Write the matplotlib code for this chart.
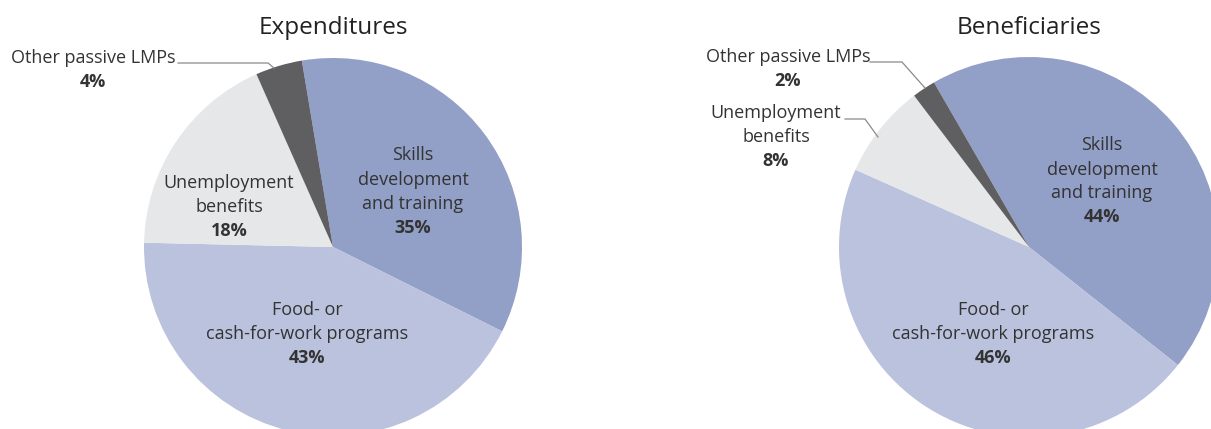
import matplotlib.pyplot as plt

plt.rcParams['font.family'] = ['Open Sans', 'DejaVu Sans']

# data
categories = ["Skills development and training", "Food- or cash-for-work programs",
              "Unemployment benefits", "Other passive LMPs"]
expenditures = [35, 43, 18, 4]
beneficiaries = [44, 46, 8, 2]
colors = ["#929fc7", "#bac2dd", "#e6e7e9", "#5f5f61"]

W, H = 1211, 429
fig = plt.figure(figsize=(W / 100, H / 100), dpi=100)
ax = fig.add_axes([0, 0, 1, 1])

txt = "#333333"
line_c = "#8a8a8a"


def Y(y):
    # image row -> data y
    return H - y


# pies
ax.pie(expenditures, colors=colors, startangle=99.5, counterclock=False,
       center=(333, Y(247)), radius=189, wedgeprops=dict(linewidth=0))
ax.pie(beneficiaries, colors=colors, startangle=120, counterclock=False,
       center=(1029, Y(247)), radius=190, wedgeprops=dict(linewidth=0))

ax.set_xlim(0, W)
ax.set_ylim(0, H)
ax.set_aspect('equal')
ax.axis('off')

fs = 13
ax.text(333, Y(28), "Expenditures", ha='center', va='center', fontsize=17.5, color="#222222")
ax.text(1029, Y(28), "Beneficiaries", ha='center', va='center', fontsize=17.5, color="#222222")


def label(x, ys, lines, pct):
    for y, s in zip(ys, lines):
        ax.text(x, Y(y), s, ha='center', va='center', fontsize=fs, color=txt)
    ax.text(x, Y(ys[-1] + 24), pct, ha='center', va='center', fontsize=fs,
            color=txt, fontweight='bold')


# left pie labels
label(413, [155, 180, 204], ["Skills", "development", "and training"], "%d%%" % expenditures[0])
label(307, [310, 334], ["Food- or", "cash-for-work programs"], "%d%%" % expenditures[1])
label(229, [183, 207], ["Unemployment", "benefits"], "%d%%" % expenditures[2])
label(93, [58], ["Other passive LMPs"], "%d%%" % expenditures[3])
ax.plot([178, 268, 274], [Y(63), Y(63), Y(68)], color=line_c, lw=0.9)

# right pie labels
label(1102, [145, 170, 193], ["Skills", "development", "and training"], "%d%%" % beneficiaries[0])
label(993, [310, 334], ["Food- or", "cash-for-work programs"], "%d%%" % beneficiaries[1])
label(776, [113, 137], ["Unemployment", "benefits"], "%d%%" % beneficiaries[2])
label(788, [57], ["Other passive LMPs"], "%d%%" % beneficiaries[3])
ax.plot([870, 902, 925], [Y(62), Y(62), Y(88)], color=line_c, lw=0.9)
ax.plot([845, 865, 878], [Y(119), Y(119), Y(137)], color=line_c, lw=0.9)

fig.savefig("out.png", dpi=100)
